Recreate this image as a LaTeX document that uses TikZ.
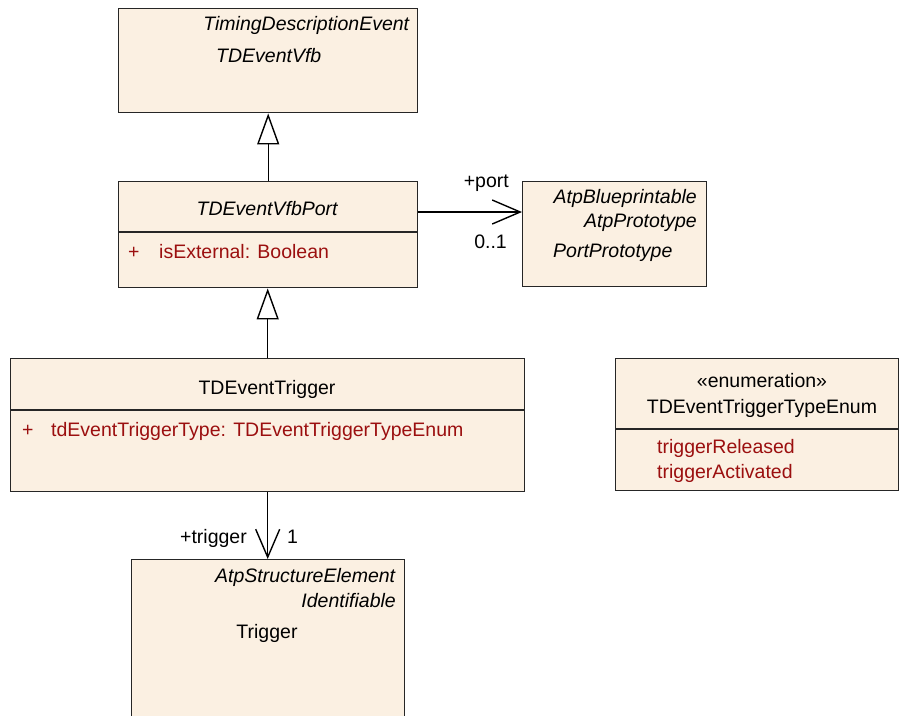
\documentclass[tikz,border=0pt]{standalone}
\usepackage{fontspec}
\setmainfont{Liberation Sans}
\usetikzlibrary{arrows.meta}
\definecolor{classfill}{RGB}{251,240,226}
\definecolor{attrred}{RGB}{155,15,15}

\begin{document}
\begin{tikzpicture}[x=1pt,y=-1pt,font=\fontsize{19.5}{23}\selectfont]
		\tikzstyle {classbox} = [draw=black!85, line width=1.4pt, fill=classfill, anchor=north west, inner sep=0pt]
		\tikzstyle {sep} = [draw=black!85, line width=1.4pt]
		\tikzstyle {txt} = [inner sep=0pt]
		\tikzstyle {attr} = [inner sep=0pt, text=attrred, anchor=base west]
		\tikzstyle {generalization} = [line width=1.4pt, -{Triangle[length=31pt, width=22pt, fill=white]}]
		\tikzstyle {association} = [line width=1.4pt, -{Straight Barb[length=28pt, width=24pt]}]

		\useasboundingbox (0,0) rectangle (899,715);
		\clip (0,0) rectangle (899,715);

		% classes
		\node[classbox, minimum width=299pt, minimum height=104pt] (vfb) at (118,8) {};
		\node[classbox, minimum width=299pt, minimum height=106pt] (vfbport) at (118,181) {};
		\node[classbox, minimum width=184pt, minimum height=105pt] (pproto) at (522,181) {};
		\node[classbox, minimum width=514pt, minimum height=133pt] (trig) at (10,358) {};
		\node[classbox, minimum width=283pt, minimum height=132pt] (enum) at (615,358) {};
		\node[classbox, minimum width=273pt, minimum height=200pt] (trigger) at (131,559) {};

		\node[txt, anchor=base east] (vfbparent) at (410,30) {\textit{TimingDescriptionEvent}};
		\node[txt, anchor=base west] (vfbname) at (216,62) {\textit{TDEventVfb}};

		\node[txt, anchor=base] (portname) at (267.5,215) {\textit{TDEventVfbPort}};
		\draw[sep] ([yshift=-51pt]vfbport.north west) -- ([yshift=-51pt]vfbport.north east);
		\node[attr] (portvis) at (128,258) {+};
		\node[attr] (portattr) at (159,258) {isExternal: Boolean};

		\node[txt, anchor=base east] (ppparent1) at (697,203) {\textit{AtpBlueprintable}};
		\node[txt, anchor=base east] (ppparent2) at (697,227) {\textit{AtpPrototype}};
		\node[txt, anchor=base west] (ppname) at (553,257) {\textit{PortPrototype}};

		\node[txt, anchor=base] (trigname) at (267,394) {TDEventTrigger};
		\draw[sep] ([yshift=-52pt]trig.north west) -- ([yshift=-52pt]trig.north east);
		\node[attr] (trigvis) at (22,436) {+};
		\node[attr] (trigattr) at (51,436) {tdEventTriggerType: TDEventTriggerTypeEnum};

		\node[txt, anchor=base] (enumstereo) at (762,387) {«enumeration»};
		\node[txt, anchor=base] (enumname) at (762,413) {TDEventTriggerTypeEnum};
		\draw[sep] ([yshift=-71pt]enum.north west) -- ([yshift=-71pt]enum.north east);
		\node[attr] (enumlit1) at (657,453) {triggerReleased};
		\node[attr] (enumlit2) at (657,478) {triggerActivated};

		\node[txt, anchor=base east] (trparent1) at (396,582) {\textit{AtpStructureElement}};
		\node[txt, anchor=base east] (trparent2) at (396,607) {\textit{Identifiable}};
		\node[txt, anchor=base] (trname) at (267,638) {Trigger};

		% relations
		\draw[generalization] (vfbport.north) -- (vfb.south);
		\draw[generalization] (trig.north) -- (trig.north |- vfbport.south);
		\draw[association] ([yshift=-31pt]vfbport.north east) -- ([yshift=-31pt]pproto.north west);
		\draw[association] (trig.south) -- (trig.south |- trigger.north);

		\node[txt, anchor=base east] (portrole) at (509,187) {+port};
		\node[txt, anchor=base east] (portmult) at (507,248) {0..1};
		\node[txt, anchor=base east] (trigrole) at (247,543) {+trigger};
		\node[txt, anchor=base west] (trigmult) at (287,543) {1};
	\end{tikzpicture}
\end{document}
